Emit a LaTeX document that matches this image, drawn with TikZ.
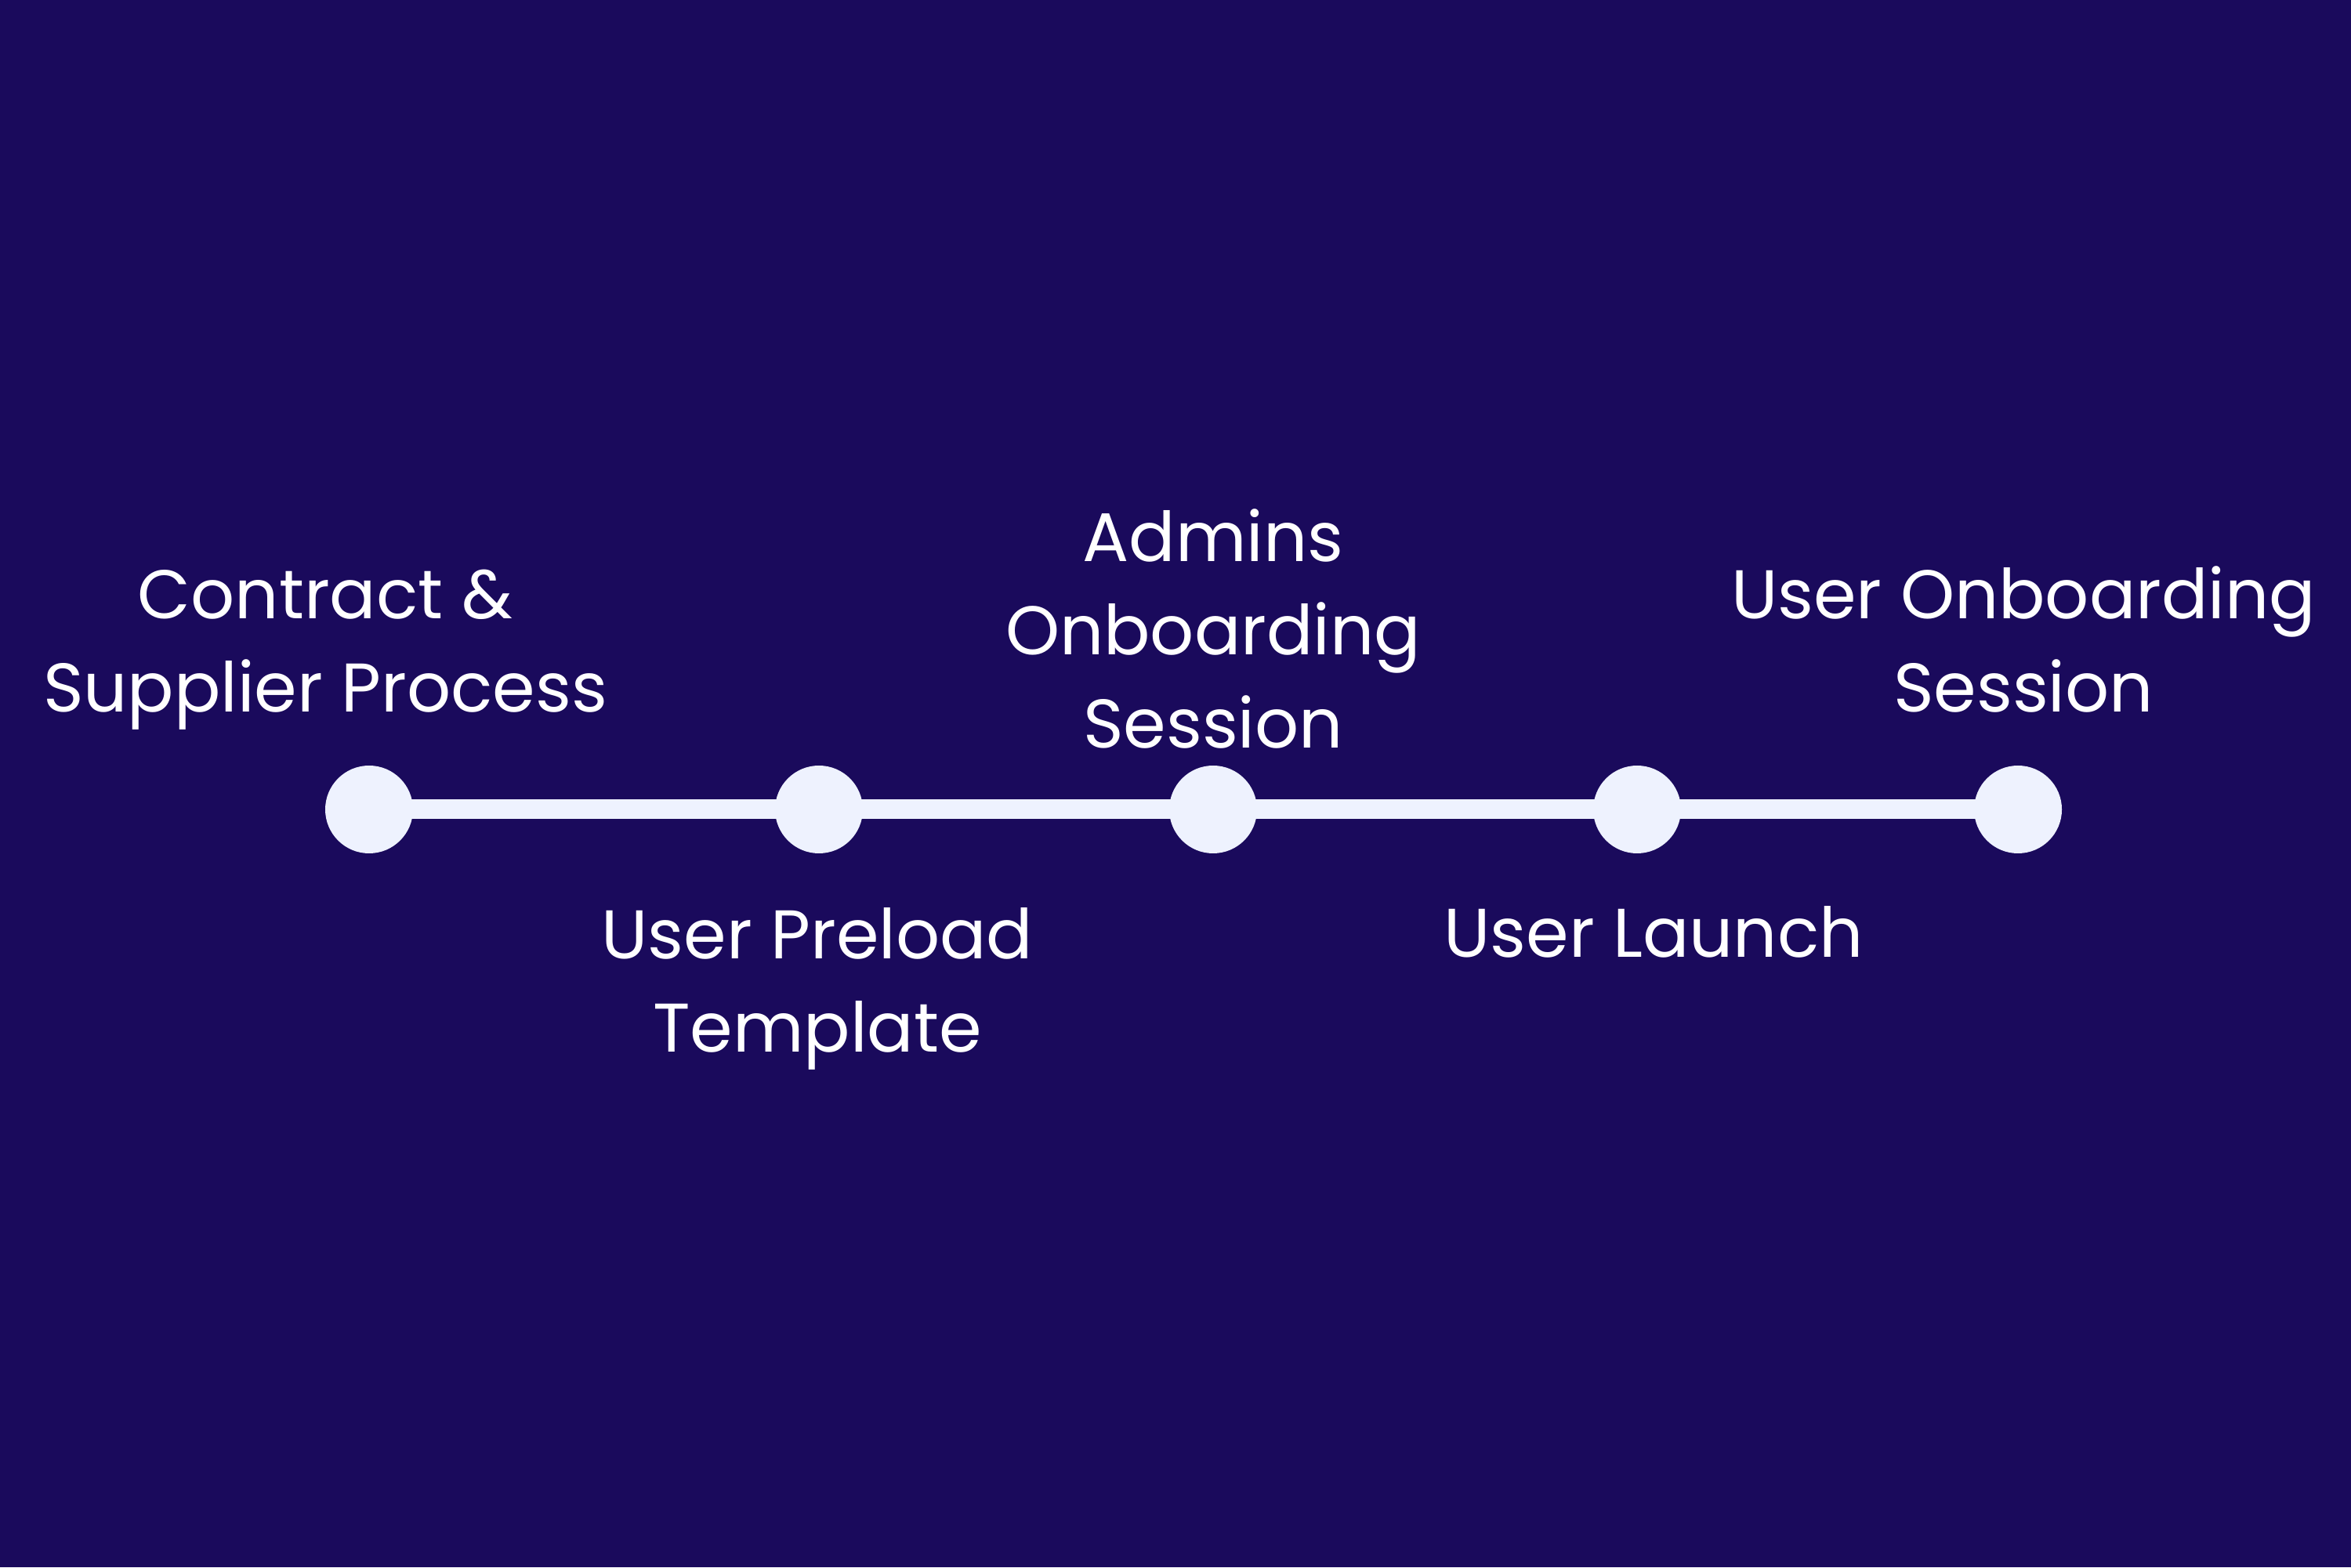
\documentclass[tikz,border=0pt]{standalone}
\usepackage{fontspec}
\setmainfont{Poppins}
\usetikzlibrary{positioning}
\definecolor{nightviolet}{HTML}{1A0A5C}
\definecolor{paleblue}{HTML}{EEF2FE}

\begin{document}
\begin{tikzpicture}[
    milestone/.style={circle, fill=paleblue, minimum size=1.12cm, inner sep=0pt},
    track/.style={paleblue, line width=0.25cm},
    steplabel/.style={text=white, align=center, anchor=base, inner sep=0pt,
                      font=\fontsize{25}{34}\selectfont}
  ]
    \fill[nightviolet] (0,0) rectangle (30,20);

    % milestones on the timeline
    \node[milestone] (contract) at (4.71, 9.67) {};
    \node[milestone] (preload)  at (10.45, 9.67) {};
    \node[milestone] (admins)   at (15.48, 9.67) {};
    \node[milestone] (launch)   at (20.89, 9.67) {};
    \node[milestone] (session)  at (25.75, 9.67) {};

    \draw[track] (contract.center) -- (preload.center)
      -- (admins.center) -- (launch.center) -- (session.center);

    % labels above and below (base = last line)
    \node[steplabel] (contractlbl) at (4.15, 10.91) {Contract \&\\Supplier Process};
    \node[steplabel] (adminslbl)   at (15.48, 10.45) {Admins\\Onboarding\\Session};
    \node[steplabel] (sessionlbl)  at (25.82, 10.91) {User Onboarding\\Session};
    \node[steplabel] (preloadlbl)  at (10.43, 6.57) {User Preload\\Template};
    \node[steplabel] (launchlbl)   at (21.10, 7.78) {User Launch};
\end{tikzpicture}
\end{document}
